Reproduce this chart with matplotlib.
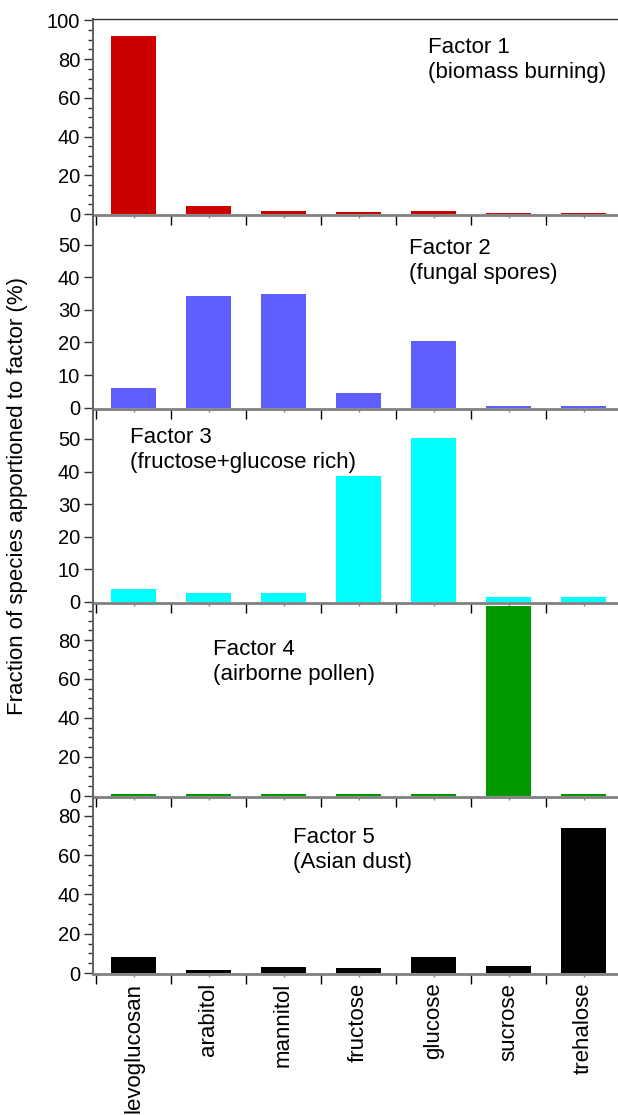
import matplotlib.pyplot as plt
import numpy as np

plt.rcParams['font.family'] = ['Liberation Sans', 'DejaVu Sans']

species = ['levoglucosan', 'arabitol', 'mannitol', 'fructose', 'glucose', 'sucrose', 'trehalose']

factor1 = [92.0, 4.1, 1.6, 1.0, 1.7, 0.7, 0.7]
factor2 = [6.0, 34.3, 34.9, 4.5, 20.5, 0.6, 0.6]
factor3 = [4.0, 2.9, 2.9, 38.6, 50.3, 1.5, 1.5]
factor4 = [0.9, 0.9, 0.9, 0.9, 0.9, 97.5, 0.9]
factor5 = [8.1, 1.3, 3.0, 2.6, 8.2, 3.5, 73.8]

names = ['Factor 1', 'Factor 2', 'Factor 3', 'Factor 4', 'Factor 5']
sources = ['(biomass burning)', '(fungal spores)', '(fructose+glucose rich)',
           '(airborne pollen)', '(Asian dust)']
colors = ['#cc0000', '#5f5fff', '#00ffff', '#009900', '#000000']

W, H = 618, 1115
fig = plt.figure(figsize=(W / 100, H / 100), dpi=100)

# panel edges in pixels from the top, y limits, tick steps
edges = [(19.3, 215), (215, 409.3), (409.3, 603.3), (603.3, 797.3), (797.3, 974.3)]
ylims = [(-0.5, 100.6), (-0.5, 59.1), (-0.4, 59.1), (-0.8, 98.9), (-0.66, 89.4)]
ysteps = [20, 10, 10, 20, 20]
yminor = [5, None, None, 5, 5]
yticktop = [100, 50, 50, 80, 80]
# text positions (x, baseline of first line) in pixels
textpos = [(427.7, 52.7), (409, 254), (130, 443.3), (213.3, 655), (293.3, 843.3)]

data = [factor1, factor2, factor3, factor4, factor5]
x = np.arange(len(species))
left = 93.3

for i in range(5):
    top, bot = edges[i]
    ax = fig.add_axes([left / W, 1 - bot / H, (W - left) / W, (bot - top) / H])
    ax.patch.set_visible(False)
    ax.bar(x, data[i], width=0.61, color=colors[i])
    ax.set_xlim(-0.536, 6.46)
    ax.set_ylim(*ylims[i])

    ax.spines['right'].set_visible(False)
    if i > 0:
        ax.spines['top'].set_visible(False)
    else:
        ax.spines['top'].set_color('#333333')
        ax.spines['top'].set_linewidth(1)
    ax.spines['bottom'].set_color('#808080')
    ax.spines['bottom'].set_linewidth(2)
    ax.spines['left'].set_color('#666666')
    ax.spines['left'].set_linewidth(1.5)

    ax.set_yticks(np.arange(0, yticktop[i] + 1, ysteps[i]))
    if yminor[i]:
        ax.set_yticks(np.arange(0, ylims[i][1], yminor[i]), minor=True)
    ax.tick_params(axis='y', which='major', direction='out', length=6.5, width=1,
                   color='#333333', labelsize=14.5, pad=3)
    ax.tick_params(axis='y', which='minor', direction='out', length=3.6, width=1,
                   color='#333333')

    ax.set_xticks(np.arange(-0.5, 6.0, 1))
    ax.set_xticklabels([])
    if i == 4:
        ax.set_xticks(x, labels=species, minor=True)
    else:
        ax.set_xticks(x, minor=True)
    ax.tick_params(axis='x', which='major', direction='out', length=7.5, width=1,
                   color='black')
    ax.tick_params(axis='x', which='minor', direction='out', length=2, width=1,
                   color='#808080', labelsize=16, labelrotation=90, pad=4)

    tx, ty = textpos[i]
    fig.text(tx / W, 1 - ty / H, names[i], fontsize=16, va='baseline')
    fig.text(tx / W, 1 - (ty + 25) / H, sources[i], fontsize=16, va='baseline')

fig.text(18 / W, 1 - 496 / H, 'Fraction of species apportioned to factor (%)',
         rotation=90, va='center', ha='center', fontsize=16)

plt.savefig('out.png', dpi=100)
